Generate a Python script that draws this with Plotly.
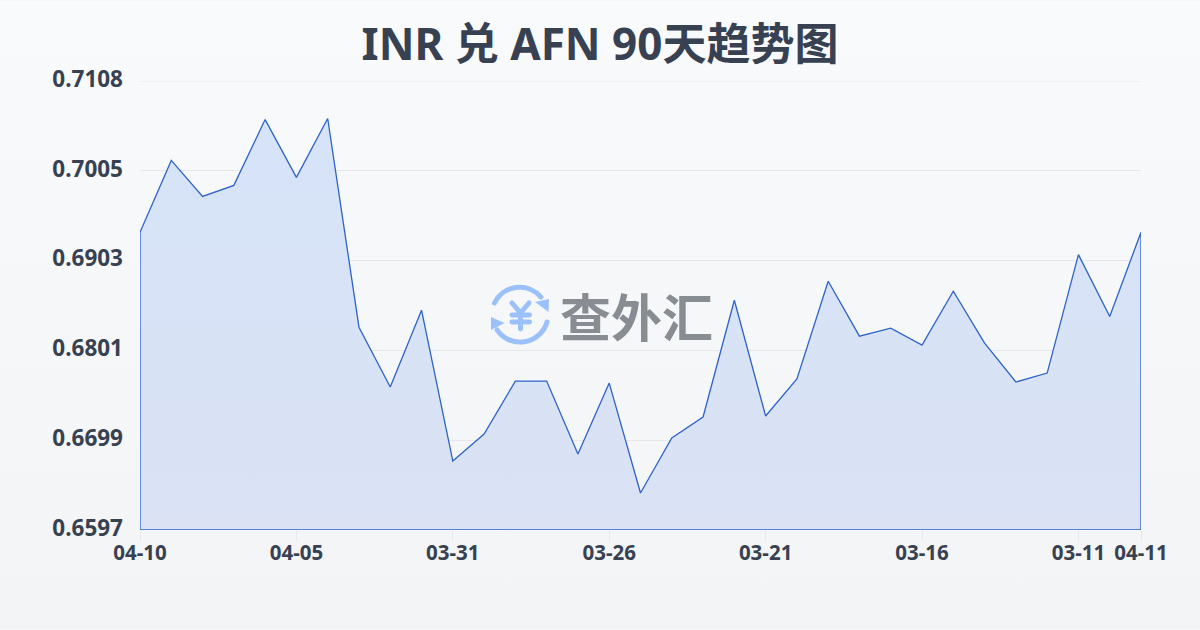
import base64
import plotly.graph_objects as go

dates = ["04-10","04-09","04-08","04-07","04-06","04-05","04-04","04-03","04-02","04-01","03-31",
         "03-30","03-29","03-28","03-27","03-26","03-25","03-24","03-23","03-22","03-21",
         "03-20","03-19","03-18","03-17","03-16","03-15","03-14","03-13","03-12","03-11","03-10","04-11"]
rates = [0.69358,0.70176,0.69767,0.69892,0.70641,0.69983,0.70653,0.68278,0.67597,0.68472,
         0.66755,0.67062,0.67665,0.67665,0.66834,0.67642,0.66391,0.67017,0.67256,0.68585,
         0.67267,0.67688,0.68801,0.68176,0.68267,0.68074,0.68688,0.68097,0.67654,0.67756,
         0.69104,0.68400,0.69358]
y_min, y_max = 0.6597, 0.7108
y_ticks = [0.6597,0.66992,0.68014,0.69036,0.70058,0.7108]
y_labels = ["0.6597","0.6699","0.6801","0.6903","0.7005","0.7108"]
x_tick_idx = [0,5,10,15,20,25,30,32]
title = "INR 兑 AFN 90天趋势图"
logo_text = "查外汇"

W, H = 1200, 630
L, R, T, B = 140, 1141, 80.5, 530.5
FONT = "Noto Sans, Noto Sans CJK SC, sans-serif"
TXT = "#374151"

def uri(svg):
    return "data:image/svg+xml;base64," + base64.b64encode(svg.encode()).decode()

bg = f'''<svg xmlns="http://www.w3.org/2000/svg" width="{W}" height="{H}" viewBox="0 0 {W} {H}">
<defs><linearGradient id="g" x1="0" y1="0" x2="0" y2="1"><stop offset="0" stop-color="#f8fafc"/><stop offset="1" stop-color="#f3f4f6"/></linearGradient></defs>
<rect width="{W}" height="{H}" fill="url(#g)"/></svg>'''

icon = '''<svg xmlns="http://www.w3.org/2000/svg" width="75" height="70" viewBox="0 0 75 70">
<g fill="none" stroke="#9cc0f9" stroke-width="5" stroke-linecap="round" stroke-linejoin="round">
<path d="M9.5 23 A28 28 0 0 1 56 17"/>
<path d="M62 42 A28 28 0 0 1 12 50"/>
<path d="M27 23 L35.5 33 L44 23 M27 35 H44.5 M27 42 H44.5 M35.5 33 V49"/>
</g>
<g fill="#9cc0f9"><path d="M50 22 L64 19 L63.5 32 Z"/><path d="M6 37 L6 50 L19.5 43 Z"/></g>
</svg>'''

idx = list(range(len(rates)))
fig = go.Figure()
fig.add_trace(go.Scatter(
    x=[idx[0]] + idx + [idx[-1], idx[0]],
    y=[y_min] + rates + [y_min, y_min],
    mode="lines", fill="toself", cliponaxis=False,
    line=dict(color="#2d63c8", width=1.3),
    fillgradient=dict(type="vertical",
                      colorscale=[[0, "#dae2f4"], [1, "#d6e3f8"]]),
    hoverinfo="skip", showlegend=False))

def px_x(p): return (p - L) / (R - L)
def px_y(p): return (B - p) / (B - T)

fig.update_layout(
    width=W, height=H,
    margin=dict(l=L, r=W - R, t=T, b=H - B, pad=0),
    paper_bgcolor="#f6f7f9", plot_bgcolor="rgba(0,0,0,0)",
    font=dict(family=FONT, color=TXT),
    title=dict(text=title, x=0.5, xanchor="center", y=1 - 45 / H, yanchor="middle",
               font=dict(family=FONT, size=44, color=TXT, weight=700)),
    xaxis=dict(range=[idx[0], idx[-1]], tickmode="array", tickvals=x_tick_idx,
               ticktext=[dates[i] for i in x_tick_idx],
               showgrid=False, zeroline=False, showline=False,
               ticks="outside", ticklen=10, tickcolor="#e5e7eb", tickwidth=1,
               ticklabelstandoff=-6,
               tickangle=0, tickfont=dict(family=FONT, size=20.5, color=TXT, weight=700)),
    yaxis=dict(range=[y_min, y_max], tickmode="array", tickvals=y_ticks, ticktext=y_labels,
               showgrid=True, gridcolor="#e5e7eb", gridwidth=1, zeroline=False, showline=False,
               ticks="", ticklabelstandoff=16, ticklabelshift=-2,
               tickfont=dict(family=FONT, size=22.5, color=TXT, weight=700)),
    shapes=[dict(type="line", xref="paper", x0=0, x1=1, yref="y", y0=y_max, y1=y_max,
                 line=dict(color="#e5e7eb", width=1), layer="below")],
    images=[
        dict(source=uri(bg), xref="paper", yref="paper", x=px_x(0), y=px_y(0),
             sizex=W / (R - L), sizey=H / (B - T), sizing="stretch",
             xanchor="left", yanchor="top", layer="below"),
        dict(source=uri(icon), xref="paper", yref="paper", x=px_x(485), y=px_y(280),
             sizex=75 / (R - L), sizey=70 / (B - T), sizing="stretch",
             xanchor="left", yanchor="top", layer="above"),
    ],
    annotations=[dict(text=logo_text, xref="paper", yref="paper", x=px_x(636), y=px_y(315),
                      xanchor="center", yanchor="middle", showarrow=False,
                      font=dict(family="Noto Sans CJK SC", size=51, color="#888c93", weight=700))],
)
fig.write_html("out.html", config=dict(displayModeBar=False),
               post_script="document.body.style.margin='0';")
